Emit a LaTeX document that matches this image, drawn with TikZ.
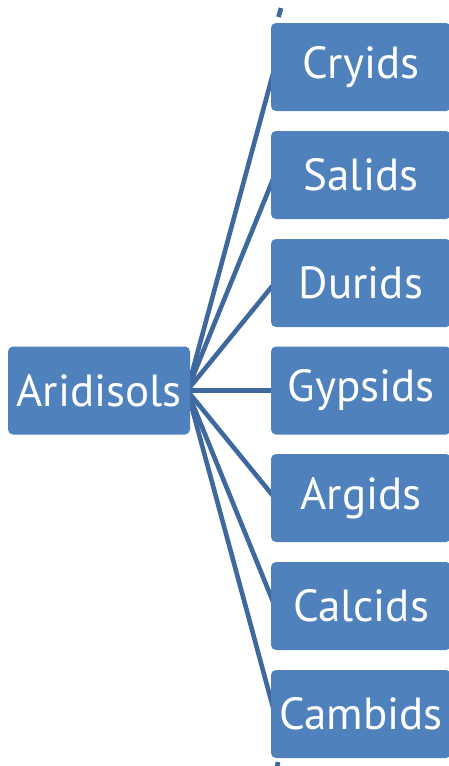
\documentclass[tikz,border=0pt]{standalone}
\usepackage{fontspec}
\setmainfont{PT Sans}
\usetikzlibrary{backgrounds}
\definecolor{boxblue}{RGB}{79,129,189}
\definecolor{lineblue}{RGB}{62,104,158}
\begin{document}
\begin{tikzpicture}[x=1pt,y=-1pt,
  box/.style={fill=boxblue, rounded corners=5pt, minimum width=182pt, minimum height=88pt,
    text=white, font=\fontsize{45}{45}\selectfont, inner sep=0pt},
  conn/.style={draw=lineblue, line width=4.6pt}]
\useasboundingbox (0,0) rectangle (448,766);
\node[box] (root) at (99,390.5) {Aridisols};
\node[box, minimum width=180pt] (c1) at (361,67) {Cryids};
\node[box, minimum width=180pt] (c2) at (361,175) {Salids};
\node[box, minimum width=180pt] (c3) at (361,283) {Durids};
\node[box, minimum width=180pt] (c4) at (361,390.5) {Gypsids};
\node[box, minimum width=180pt] (c5) at (361,498) {Argids};
\node[box, minimum width=180pt] (c6) at (361,606) {Calcids};
\node[box, minimum width=180pt] (c7) at (361,714) {Cambids};
\coordinate (t1) at (281,8);
\coordinate (t2) at (278.5,17);
\coordinate (b1) at (278,762);
\coordinate (b2) at (277,767);
\begin{scope}[on background layer]
\foreach \i in {1,...,7} {\draw[conn] ([xshift=-3pt]root.east) -- ([xshift=4pt]c\i.west);}
\draw[conn] (t1) -- (t2);
\draw[conn] (b1) -- (b2);
\end{scope}
\end{tikzpicture}
\end{document}
